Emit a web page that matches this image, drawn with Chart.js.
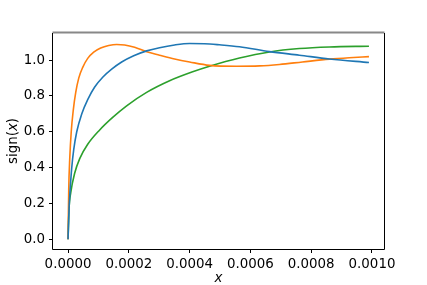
<!DOCTYPE html>
<html>
<head>
<meta charset="utf-8">
<script src="https://cdn.jsdelivr.net/npm/chart.js@4"></script>
<style>
  html, body { margin: 0; padding: 0; background: #fff; }
  #wrap { width: 427px; height: 285px; }
</style>
</head>
<body>
<div id="wrap"><canvas id="lineChart" width="427" height="285"></canvas></div>
<script>
// values
const blueX = [0, 0.0000033, 0.0000066, 0.0000122, 0.0000187, 0.0000286, 0.000045, 0.0000647, 0.0000877, 0.000114, 0.0001436, 0.0001764, 0.000216, 0.0002585, 0.000301, 0.0003505, 0.0004, 0.000449, 0.000498, 0.000564, 0.0006626, 0.000761, 0.00086, 0.00099];
const blueY = [0, 0.17, 0.27, 0.4, 0.5, 0.6, 0.7, 0.78, 0.85, 0.905, 0.95, 0.99, 1.025, 1.052, 1.07, 1.085, 1.093, 1.092, 1.086, 1.075, 1.048, 1.028, 1.007, 0.987];

const orangeX = [0, 0.0000023, 0.0000056, 0.0000105, 0.0000171, 0.0000253, 0.0000352, 0.0000483, 0.0000647, 0.0000844, 0.0001074, 0.0001337, 0.00016, 0.0001863, 0.0002191, 0.0002585, 0.000301, 0.0003505, 0.0004, 0.0004655, 0.000554, 0.00063, 0.0006955, 0.000771, 0.00086, 0.000925, 0.00099];
const orangeY = [0, 0.28, 0.45, 0.6, 0.72, 0.82, 0.9, 0.96, 1.01, 1.045, 1.068, 1.082, 1.088, 1.085, 1.072, 1.047, 1.028, 1.007, 0.99, 0.971, 0.966, 0.968, 0.976, 0.99, 1.006, 1.014, 1.02];

const greenX = [0, 0.0000033, 0.0000089, 0.000022, 0.0000384, 0.0000647, 0.0001041, 0.0001468, 0.0001928, 0.0002585, 0.0003341, 0.00041, 0.0004655, 0.000564, 0.0006626, 0.000761, 0.00086, 0.00099];
const greenY = [0, 0.17, 0.26, 0.37, 0.45, 0.53, 0.61, 0.68, 0.745, 0.82, 0.885, 0.935, 0.966, 1.012, 1.046, 1.065, 1.074, 1.078];

const xTicks = [0, 0.0002, 0.0004, 0.0006, 0.0008, 0.001];
const yTicks = [0, 0.2, 0.4, 0.6, 0.8, 1.0];

function pts(xs, ys) {
  return xs.map((x, i) => ({ x: x, y: ys[i] }));
}

const font = "'DejaVu Sans', sans-serif";

const frame = {
  id: "frame",
  afterDraw(chart) {
    const c = chart.ctx, a = chart.chartArea;
    c.save();
    c.lineCap = "butt";
    // top spine looks gray in the reference
    c.strokeStyle = "#888";
    c.lineWidth = 2;
    c.beginPath(); c.moveTo(a.left - 0.5, a.top - 0.5); c.lineTo(a.right + 0.5, a.top - 0.5); c.stroke();
    c.strokeStyle = "#000";
    c.lineWidth = 1;
    c.beginPath();
    c.moveTo(a.left - 0.5, a.top); c.lineTo(a.left - 0.5, a.bottom + 0.5);
    c.lineTo(a.right + 0.5, a.bottom + 0.5); c.lineTo(a.right + 0.5, a.top);
    c.stroke();
    // axis labels, x in italics
    c.fillStyle = "#000";
    c.textBaseline = "middle";
    c.textAlign = "center";
    c.font = "italic 13.4px " + font;
    c.fillText("x", (a.left + a.right) / 2, 279);
    c.translate(14, (a.top + a.bottom) / 2);
    c.rotate(-Math.PI / 2);
    const p1 = "sign(", p3 = ")";
    c.font = "13.4px " + font;
    const w1 = c.measureText(p1).width, w3 = c.measureText(p3).width;
    c.font = "italic 13.4px " + font;
    const w2 = c.measureText("x").width;
    let x0 = -(w1 + w2 + w3) / 2;
    c.textAlign = "left";
    c.font = "13.4px " + font;
    c.fillText(p1, x0, 0);
    c.font = "italic 13.4px " + font;
    c.fillText("x", x0 + w1, 0);
    c.font = "13.4px " + font;
    c.fillText(p3, x0 + w1 + w2, 0);
    c.restore();
  }
};

const line = (label, data, color) => ({
  label: label,
  data: data,
  borderColor: color,
  borderWidth: 1.6,
  pointRadius: 0,
  fill: false,
  cubicInterpolationMode: "monotone",
});

new Chart(document.getElementById("lineChart").getContext("2d"), {
  type: "line",
  data: {
    datasets: [
      line("blue", pts(blueX, blueY), "#1f77b4"),
      line("orange", pts(orangeX, orangeY), "#ff7f0e"),
      line("green", pts(greenX, greenY), "#2ca02c"),
    ],
  },
  options: {
    responsive: false,
    animation: false,
    events: [],
    layout: { padding: { left: 0, right: 43, top: 33, bottom: 0 } },
    plugins: { legend: { display: false }, tooltip: { enabled: false } },
    scales: {
      x: {
        type: "linear",
        min: -0.0000495,
        max: 0.0010395,
        afterBuildTicks: (s) => { s.ticks = xTicks.map((v) => ({ value: v })); },
        afterFit: (s) => { s.height = 36; },
        border: { display: false },
        grid: { drawOnChartArea: false, drawTicks: true, tickLength: 4, color: "#000", tickWidth: 1 },
        ticks: {
          autoSkip: false, maxRotation: 0, padding: 3, color: "#000",
          font: { family: font, size: 13.4 },
          callback: (v) => v.toFixed(4),
        },
      },
      y: {
        min: -0.0549,
        max: 1.1519,
        afterBuildTicks: (s) => { s.ticks = yTicks.map((v) => ({ value: v })); },
        afterFit: (s) => { s.width = 53; },
        border: { display: false },
        grid: { drawOnChartArea: false, drawTicks: true, tickLength: 4, color: "#000", tickWidth: 1 },
        ticks: {
          autoSkip: false, padding: 4, color: "#000",
          font: { family: font, size: 13.4 },
          callback: (v) => v.toFixed(1),
        },
      },
    },
  },
  plugins: [frame],
});
</script>
</body>
</html>
